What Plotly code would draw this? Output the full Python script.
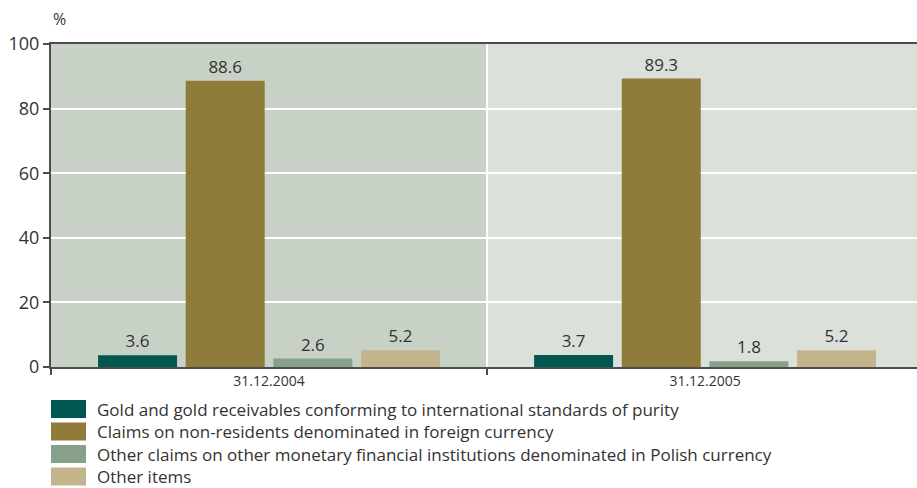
import plotly.graph_objects as go

# Structure of official reserve assets, % of total
dates = ["31.12.2004", "31.12.2005"]
series_names = [
    "Gold and gold receivables conforming to international standards of purity",
    "Claims on non-residents denominated in foreign currency",
    "Other claims on other monetary financial institutions denominated in Polish currency",
    "Other items",
]
gold = [3.6, 3.7]
nonresidents = [88.6, 89.3]
other_mfi = [2.6, 1.8]
other_items = [5.2, 5.2]
y_ticks = [0, 20, 40, 60, 80, 100]

colors = ["#00574F", "#8F7B3A", "#87A089", "#C4B48C"]
panel_colors = ["#C7D1C6", "#DBE0DA"]
FONT = "Open Sans, Noto Sans, sans-serif"
TXT = "#333333"
AX = "#4d4d4d"

x_pos = list(range(len(dates)))
fig = go.Figure()
for name, vals, col in zip(series_names, [gold, nonresidents, other_mfi, other_items], colors):
    fig.add_trace(go.Bar(
        x=x_pos, y=vals, name=name, marker=dict(color=col, line=dict(width=0)),
        text=[f"{v:.1f}" for v in vals], textposition="outside",
        textfont=dict(size=17, color=TXT, family=FONT), cliponaxis=False,
        showlegend=False,
    ))

# shaded panels behind each date group
shapes = []
for i, c in enumerate(panel_colors):
    shapes.append(dict(type="rect", xref="x", yref="y", x0=i - 0.5, x1=i + 0.5,
                       y0=0, y1=100, fillcolor=c, line=dict(width=0), layer="below"))
shapes.append(dict(type="line", xref="x", yref="y", x0=0.5, x1=0.5, y0=0, y1=100,
                   line=dict(color="white", width=2), layer="below"))

# legend with wide colour swatches
annotations = [dict(text="%", xref="paper", yref="paper", x=0.0, y=1.0, xshift=0, yshift=12,
                    xanchor="left", yanchor="bottom", showarrow=False,
                    font=dict(size=16, color=TXT, family=FONT))]
row_h = 22.5
for k, (name, col) in enumerate(zip(series_names, colors)):
    top = 400 + k * row_h
    shapes.append(dict(type="rect", xref="paper", yref="paper",
                       x0=0, x1=35 / 866, y0=(367 - top) / 323, y1=(367 - top - 18) / 323,
                       fillcolor=col, line=dict(width=0)))
    annotations.append(dict(text=name, xref="paper", yref="paper", x=44 / 866,
                            y=(367 - top - 9) / 323, xanchor="left", yanchor="middle",
                            showarrow=False, font=dict(size=17, color=TXT, family=FONT)))

fig.update_layout(
    width=917, height=488,
    margin=dict(l=51, r=0, t=44, b=121),
    paper_bgcolor="white", plot_bgcolor="white",
    barmode="group", bargap=0.196, bargroupgap=0.099,
    shapes=shapes, annotations=annotations,
    font=dict(family=FONT, color=TXT),
    xaxis=dict(range=[-0.5, 1.486], tickmode="array", tickvals=x_pos, ticktext=dates,
               ticks="", showgrid=False, zeroline=False,
               showline=True, mirror=True, linecolor=AX, linewidth=2,
               tickfont=dict(size=14, color=TXT),
               minor=dict(tickmode="array", tickvals=[-0.5, 0.5, 1.5], ticks="outside",
                          ticklen=6, tickcolor=AX, tickwidth=2, showgrid=False)),
    yaxis=dict(range=[0, 100], tickmode="array", tickvals=y_ticks,
               ticks="outside", ticklen=6, tickcolor=AX, tickwidth=2,
               showgrid=True, gridcolor="white", gridwidth=1.5,
               zeroline=False, showline=True, linecolor=AX, linewidth=2,
               tickfont=dict(size=18, color=TXT)),
)

fig.write_html("out.html")
